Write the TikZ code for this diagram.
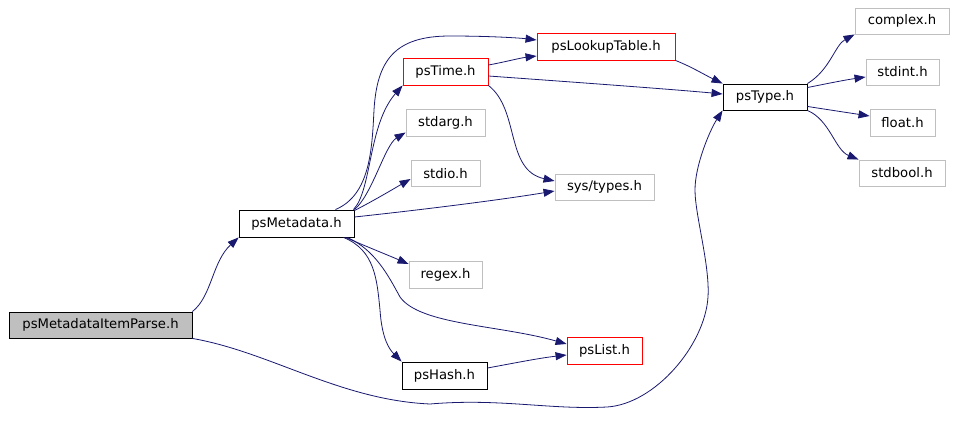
\documentclass[tikz,border=0pt]{standalone}
\usepackage{fontspec}
\setmainfont{DejaVu Sans}
\usetikzlibrary{arrows.meta}
\definecolor{edgeblue}{HTML}{191970}
\definecolor{boxgray}{HTML}{BFBFBF}
\tikzset{
  hdr/.style={draw=black, line width=0.9pt, inner sep=0pt, font=\fontsize{13.2}{15}\selectfont},
  sysbox/.style={hdr, draw=boxgray},
  redbox/.style={hdr, draw=red},
  rootbox/.style={hdr, fill=boxgray},
  dep/.style={draw=edgeblue, line width=0.8pt, -{Triangle[length=11pt,width=8pt]}, edgeblue},
}
\begin{document}
\begin{tikzpicture}[x=1pt,y=-1pt]
\useasboundingbox (0,0) rectangle (956,447);
% nodes
\node[rootbox, minimum width=183pt, minimum height=26pt] (item) at (100.5,325) {psMetadataItemParse.h};
\node[hdr, minimum width=115pt, minimum height=27pt] (meta) at (296.5,223.5) {psMetadata.h};
\node[redbox, minimum width=85pt, minimum height=27pt] (time) at (445.5,71.5) {psTime.h};
\node[redbox, minimum width=138pt, minimum height=27pt] (lookup) at (606,46.5) {psLookupTable.h};
\node[sysbox, minimum width=79pt, minimum height=27pt] (stdarg) at (445.5,122.5) {stdarg.h};
\node[sysbox, minimum width=69pt, minimum height=26pt] (stdio) at (445.5,173.5) {stdio.h};
\node[sysbox, minimum width=99pt, minimum height=26pt] (types) at (604.5,187) {sys/types.h};
\node[hdr, minimum width=84pt, minimum height=26pt] (type) at (765,97) {psType.h};
\node[sysbox, minimum width=94pt, minimum height=26pt] (complex) at (902,21) {complex.h};
\node[sysbox, minimum width=73pt, minimum height=26pt] (stdint) at (902.5,72) {stdint.h};
\node[sysbox, minimum width=65pt, minimum height=27pt] (float) at (902.5,122.5) {float.h};
\node[sysbox, minimum width=86pt, minimum height=26pt] (stdbool) at (902,173) {stdbool.h};
\node[sysbox, minimum width=73pt, minimum height=27pt] (regex) at (445.5,274.5) {regex.h};
\node[redbox, minimum width=75pt, minimum height=27pt] (list) at (604.5,350.5) {psList.h};
\node[hdr, minimum width=85pt, minimum height=27pt] (hash) at (444.5,375.5) {psHash.h};
% edges
\draw[dep] (item.north east) .. controls (212,296) and (212,262) .. (meta.south west);
\draw[dep] (item.south east) .. controls (270,352) and (340,400) .. (430,404)
  .. controls (500,398) and (550,410) .. (607,407)
  .. controls (655,404) and (705,345) .. (708,297)
  .. controls (710,265) and (695,215) .. (695,190)
  .. controls (695,165) and (710,130) .. (type.south west);
\draw[dep] ([xshift=-19pt]meta.north east) .. controls (370,195) and (372,150) .. (374,110)
  .. controls (377,60) and (395,36) .. (450,36)
  .. controls (490,36) and (520,38) .. ([yshift=6.5pt]lookup.west);
\draw[dep] ([xshift=-1pt]meta.north east) .. controls (372,190) and (368,125) .. (time.south west);
\draw[dep] (meta.north east) .. controls (372,195) and (385,145) .. ([yshift=-10pt]stdarg.west);
\draw[dep] ([yshift=-1pt]meta.north east) .. controls (375,200) and (395,188) .. ([yshift=-5.5pt]stdio.west);
\draw[dep] ([yshift=6.5pt]meta.east) .. controls (420,210) and (500,200) .. ([yshift=-4pt]types.west);
\draw[dep] ([xshift=-9pt]meta.south east) .. controls (370,248) and (390,256) .. ([yshift=10.5pt]regex.west);
\draw[dep] ([xshift=-7pt]meta.south east) .. controls (375,250) and (388,275) .. (400,297)
  .. controls (420,325) and (500,325) .. ([yshift=6.5pt]list.west);
\draw[dep] ([xshift=-11pt]meta.south east) .. controls (375,250) and (377,280) .. (380,310)
  .. controls (382,340) and (390,350) .. (hash.north west);
\draw[dep] ([yshift=6.5pt]time.east) .. controls (505,62) and (520,58) .. ([yshift=-9.5pt]lookup.west);
\draw[dep] ([yshift=-4.5pt]time.east) .. controls (600,84) and (680,90) .. ([yshift=3pt]type.west);
\draw[dep] (time.south east) .. controls (520,110) and (505,170) .. ([yshift=6pt]types.west);
\draw[dep] (lookup.south east) .. controls (690,66) and (705,75) .. (type.north west);
\draw[dep] (type.north east) .. controls (830,70) and (835,45) .. (complex.south west);
\draw[dep] ([yshift=-4pt]type.north east) .. controls (830,83) and (845,80) .. ([yshift=-5pt]stdint.west);
\draw[dep] ([yshift=4pt]type.south east) .. controls (830,110) and (850,113) .. ([yshift=6.5pt]float.west);
\draw[dep] (type.south east) .. controls (830,120) and (835,150) .. (stdbool.north west);
\draw[dep] ([yshift=7.5pt]hash.east) .. controls (520,362) and (540,358) .. ([yshift=-4.5pt]list.west);
\end{tikzpicture}
\end{document}
